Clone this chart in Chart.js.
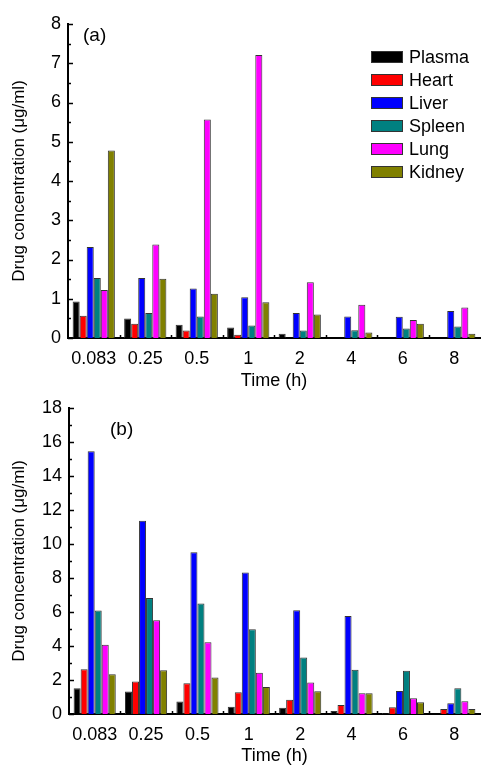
<!DOCTYPE html>
<html>
<head>
<meta charset="utf-8">
<script src="https://cdn.jsdelivr.net/npm/chart.js@4.4.1/dist/chart.umd.min.js"></script>
<style>
  html, body { margin: 0; padding: 0; background: #fff; }
  #wrapA { position: absolute; left: 0; top: 0; width: 481px; height: 390px; }
  #wrapB { position: absolute; left: 0; top: 390px; width: 481px; height: 375px; }
</style>
</head>
<body>
<div id="wrapA"><canvas id="chartA"></canvas></div>
<div id="wrapB"><canvas id="chartB"></canvas></div>
<script>
const timeLabels = ['0.083', '0.25', '0.5', '1', '2', '4', '6', '8'];
const organs = ['Plasma', 'Heart', 'Liver', 'Spleen', 'Lung', 'Kidney'];
const organColors = ['#000000', '#ff0000', '#0000ff', '#008080', '#ff00ff', '#808000'];

// panel (a)
const plasmaA = [0.93, 0.50, 0.34, 0.27, 0.11, 0, 0, 0];
const heartA  = [0.57, 0.36, 0.19, 0.08, 0, 0, 0, 0];
const liverA  = [2.32, 1.53, 1.26, 1.04, 0.64, 0.55, 0.54, 0.69];
const spleenA = [1.53, 0.64, 0.55, 0.32, 0.19, 0.20, 0.24, 0.29];
const lungA   = [1.22, 2.38, 5.57, 7.21, 1.42, 0.85, 0.46, 0.78];
const kidneyA = [4.78, 1.51, 1.13, 0.91, 0.60, 0.14, 0.36, 0.11];
const ticksA = [0, 1, 2, 3, 4, 5, 6, 7, 8];

// panel (b)
const plasmaB = [1.51, 1.32, 0.73, 0.43, 0.37, 0.18, 0.06, 0];
const heartB  = [2.63, 1.91, 1.81, 1.28, 0.84, 0.53, 0.39, 0.29];
const liverB  = [15.45, 11.37, 9.52, 8.33, 6.11, 5.76, 1.36, 0.63];
const spleenB = [6.09, 6.82, 6.50, 4.99, 3.32, 2.61, 2.55, 1.51];
const lungB   = [4.07, 5.52, 4.22, 2.42, 1.85, 1.22, 0.92, 0.75];
const kidneyB = [2.34, 2.57, 2.14, 1.59, 1.34, 1.22, 0.69, 0.29];
const ticksB = [0, 2, 4, 6, 8, 10, 12, 14, 16, 18];

const FONT = "'Liberation Sans', Arial, sans-serif";

// ticks pointing into the plot, like the origin figure
const inwardTicks = {
    id: 'inwardTicks',
    afterDatasetsDraw(chart, args, opts) {
        const { ctx, scales: { x, y } } = chart;
        const tks = opts.ticks;
        const step = tks[1] - tks[0];
        ctx.save();
        ctx.strokeStyle = '#000';
        ctx.lineWidth = 1.5;
        for (let i = 0; i < tks.length; i++) {
            const py = Math.round(y.getPixelForValue(tks[i])) + 0.5;
            ctx.beginPath();
            ctx.moveTo(y.right, py);
            ctx.lineTo(y.right + 5, py);
            ctx.stroke();
            if (i < tks.length - 1) {
                const pm = Math.round(y.getPixelForValue(tks[i] + step / 2)) + 0.5;
                ctx.beginPath();
                ctx.moveTo(y.right, pm);
                ctx.lineTo(y.right + 3, pm);
                ctx.stroke();
            }
        }
        for (let i = 1; i < timeLabels.length; i++) {
            const px = Math.round((x.getPixelForTick(i - 1) + x.getPixelForTick(i)) / 2) + 0.5;
            ctx.beginPath();
            ctx.moveTo(px, x.top);
            ctx.lineTo(px, x.top - 3);
            ctx.stroke();
        }
        ctx.restore();
    }
};

const panelTag = {
    id: 'panelTag',
    afterDraw(chart, args, opts) {
        const { ctx } = chart;
        ctx.save();
        ctx.fillStyle = '#000';
        ctx.font = '19px ' + FONT;
        ctx.textBaseline = 'middle';
        ctx.fillText(opts.text, opts.x, opts.y);
        ctx.restore();
    }
};

const boxLegend = {
    id: 'boxLegend',
    afterDraw(chart, args, opts) {
        if (!opts.show) return;
        const { ctx } = chart;
        ctx.save();
        ctx.font = '18px ' + FONT;
        ctx.textBaseline = 'middle';
        chart.data.datasets.forEach((ds, i) => {
            const cy = 57 + i * 23;
            ctx.fillStyle = ds.backgroundColor;
            ctx.fillRect(371, cy - 6, 32, 12);
            ctx.strokeStyle = '#333';
            ctx.lineWidth = 1;
            ctx.strokeRect(371.5, cy - 5.5, 31, 11);
            ctx.fillStyle = '#000';
            ctx.fillText(ds.label, 409, cy + 1);
        });
        ctx.restore();
    }
};

function makeChart(id, series, tks, opt) {
    const datasets = series.map((vals, i) => ({
        label: organs[i],
        data: vals,
        backgroundColor: organColors[i],
        borderColor: '#333',
        borderWidth: 1,
        categoryPercentage: 0.82,
        barPercentage: 1.0
    }));
    return new Chart(document.getElementById(id), {
        type: 'bar',
        data: { labels: timeLabels, datasets: datasets },
        options: {
            responsive: true,
            maintainAspectRatio: false,
            animation: false,
            layout: { padding: { top: opt.top, right: 1, left: 0, bottom: 0 } },
            plugins: {
                legend: { display: false },
                tooltip: { enabled: false },
                inwardTicks: { ticks: tks },
                panelTag: { text: opt.tag, x: opt.tagX, y: opt.tagY },
                boxLegend: { show: opt.legend }
            },
            scales: {
                x: {
                    grid: { display: false, drawTicks: false },
                    border: { display: true, color: '#000', width: 2 },
                    ticks: { color: '#000', font: { family: FONT, size: 18 }, padding: 10, maxRotation: 0 },
                    title: {
                        display: true, text: 'Time (h)', color: '#000',
                        font: { family: FONT, size: 18, lineHeight: 1.0 },
                        padding: { top: 0, bottom: 0 }
                    },
                    afterFit: s => { s.height = opt.xh; }
                },
                y: {
                    min: 0,
                    max: tks[tks.length - 1],
                    grid: { display: false, drawTicks: false },
                    border: { display: true, color: '#000', width: 2 },
                    afterBuildTicks: s => { s.ticks = tks.map(v => ({ value: v })); },
                    ticks: { color: '#000', font: { family: FONT, size: 18 }, padding: 7 },
                    title: {
                        display: true, text: 'Drug concentration (μg/ml)', color: '#000',
                        font: { family: FONT, size: 17 },
                        padding: { top: 9, bottom: 0 }
                    },
                    afterFit: s => { s.width = opt.yw; }
                }
            }
        },
        plugins: [inwardTicks, panelTag, boxLegend]
    });
}

const chartA = makeChart('chartA',
    [plasmaA, heartA, liverA, spleenA, lungA, kidneyA], ticksA,
    { top: 24, xh: 52, yw: 68, tag: '(a)', tagX: 83, tagY: 36, legend: true });

const chartB = makeChart('chartB',
    [plasmaB, heartB, liverB, spleenB, lungB, kidneyB], ticksB,
    { top: 18, xh: 51, yw: 69, tag: '(b)', tagX: 110, tagY: 40, legend: false });
</script>
</body>
</html>
